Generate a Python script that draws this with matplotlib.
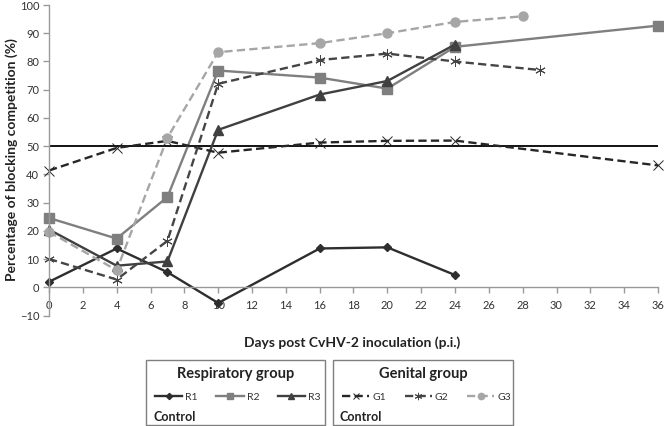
import matplotlib
matplotlib.use("Agg")
import matplotlib.pyplot as plt
from matplotlib.patches import Rectangle

plt.rcParams['font.family'] = ['Lato', 'DejaVu Sans']

days_R1 = [0, 4, 7, 10, 16, 20, 24]
R1 = [2.0, 13.8, 5.4, -5.5, 13.8, 14.2, 4.4]
days_R2 = [0, 4, 7, 10, 16, 20, 24, 36]
R2 = [24.6, 17.3, 32.0, 76.8, 74.3, 70.4, 85.2, 92.7]
days_R3 = [0, 4, 7, 10, 16, 20, 24]
R3 = [20.5, 7.7, 9.2, 55.8, 68.3, 73.1, 86.0]
days_G1 = [0, 4, 7, 10, 16, 20, 24, 36]
G1 = [41.4, 49.4, 51.9, 47.7, 51.3, 51.9, 52.0, 43.2]
days_G2 = [0, 4, 7, 10, 16, 20, 24, 29]
G2 = [10.1, 2.8, 16.5, 72.1, 80.5, 82.8, 80.0, 77.0]
days_G3 = [0, 4, 7, 10, 16, 20, 24, 28]
G3 = [19.7, 6.1, 53.0, 83.3, 86.5, 90.0, 94.0, 96.0]

control_level = 50
xticks = list(range(0, 37, 2))
yticks = list(range(-10, 101, 10))

W, H = 664, 426
fig = plt.figure(figsize=(W / 100, H / 100), dpi=100)
ax = fig.add_axes([49 / W, 1 - 315.7 / H, (658 - 49) / W, (315.7 - 5) / H])

dash = (0, (3.5, 1.8))
series = [
    (days_R1, R1, 'R1', dict(color='#2e2e2e', ls='-', marker='D', ms=4.5)),
    (days_R2, R2, 'R2', dict(color='#7f7f7f', ls='-', marker='s', ms=7)),
    (days_R3, R3, 'R3', dict(color='#404040', ls='-', marker='^', ms=6.5)),
    (days_G1, G1, 'G1', dict(color='#262626', ls=dash, marker='x', ms=7, mew=0.7)),
    (days_G2, G2, 'G2', dict(color='#454545', ls=dash, marker=(6, 2, 0), ms=7.5, mew=0.7)),
    (days_G3, G3, 'G3', dict(color='#a6a6a6', ls=dash, marker='o', ms=6.5)),
]
handles = {}
for x, y, lab, kw in series:
    ln, = ax.plot(x, y, lw=1.7, clip_on=False, label=lab, **kw)
    handles[lab] = ln

ax.plot([0, 36], [control_level, control_level], color='black', lw=1.3, zorder=1)

ax.set_xlim(0, 36)
ax.set_ylim(-10, 100)
ax.set_xticks(xticks)
ax.set_yticks(yticks)
ax.spines['top'].set_visible(False)
ax.spines['right'].set_visible(False)
ax.spines['bottom'].set_position(('data', 0))
for s in ('left', 'bottom'):
    ax.spines[s].set_color('#9a9a9a')
    ax.spines[s].set_linewidth(1.0)
ax.tick_params(axis='both', colors='#9a9a9a', labelcolor='#333333', labelsize=8, length=4, width=1.0)
ax.tick_params(axis='x', pad=5)
ax.tick_params(axis='y', pad=3)

fig.text(12 / W, 1 - 160 / H, 'Percentage of blocking competition (%)', rotation=90,
         ha='center', va='center', fontsize=10, fontweight='bold', color='#222222')
fig.text(352 / W, 1 - 343 / H, 'Days post CvHV-2 inoculation (p.i.)', ha='center', va='center',
         fontsize=10, fontweight='bold', color='#222222')

boxes = [
    (146, 325, 155, 'Respiratory group', ['R1', 'R2', 'R3']),
    (333, 513, 342, 'Genital group', ['G1', 'G2', 'G3']),
]
for x0, x1, lx, title, labs in boxes:
    fig.patches.append(Rectangle((x0 / W, 1 - 425 / H), (x1 - x0) / W, (425 - 360) / H,
                                 transform=fig.transFigure, fill=False, edgecolor='#7f7f7f', lw=1.0))
    fig.text((x0 + x1) / 2 / W, 1 - 374 / H, title, ha='center', va='center',
             fontsize=10.5, fontweight='bold', color='#222222')
    fig.text((x0 + 7) / W, 1 - 417 / H, 'Control', ha='left', va='center',
             fontsize=9, fontweight='bold', color='#222222')
    leg = fig.legend([handles[l] for l in labs], labs, loc='center left',
                     bbox_to_anchor=(lx / W, 1 - 397 / H), ncol=3, frameon=False,
                     fontsize=7.5, handlelength=2.6, handletextpad=0.3, columnspacing=1.8,
                     markerscale=0.7, borderpad=0, borderaxespad=0)
    for t in leg.get_texts():
        t.set_color('#333333')

fig.savefig('out.png', dpi=100)
